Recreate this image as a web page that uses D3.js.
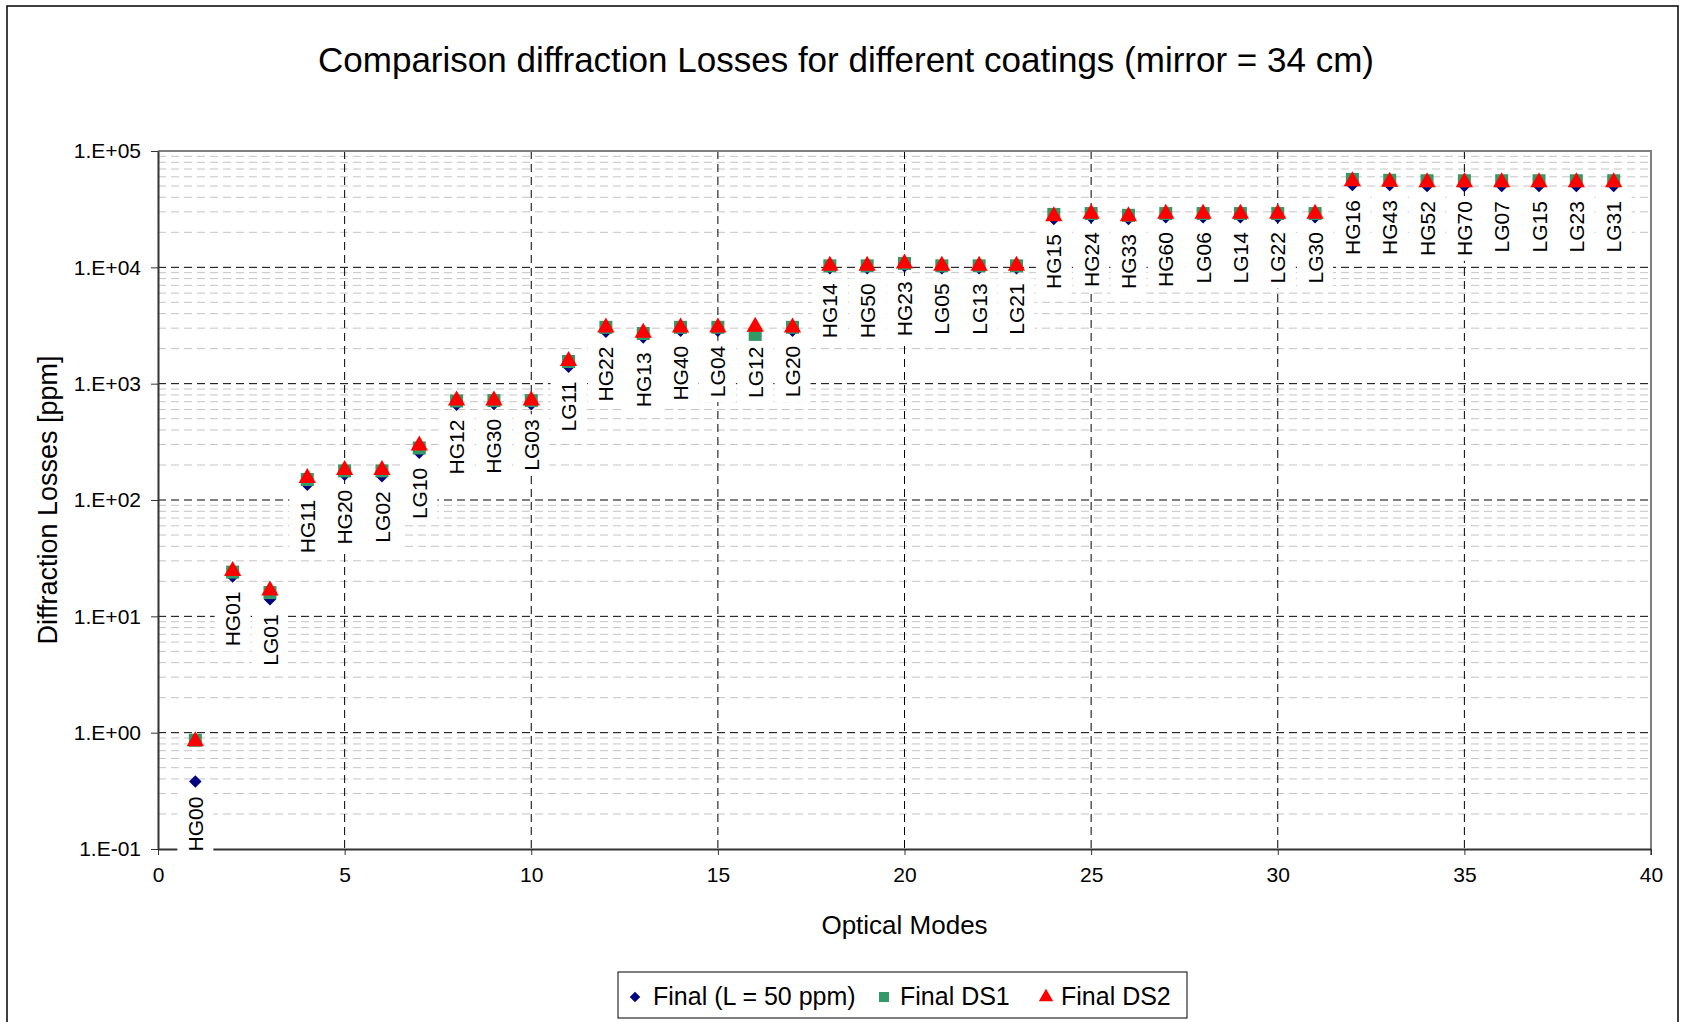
<!DOCTYPE html>
<html>
<head>
<meta charset="utf-8">
<script src="https://cdn.jsdelivr.net/npm/d3@7"></script>
<style>
  body { margin: 0; background: #fff; }
  svg { display: block; font-family: "Liberation Sans", Arial, sans-serif; }
</style>
</head>
<body>
<div id="chart"></div>
<script>
// optical modes, in x order 1..39
const modeLabels = ["HG00","HG01","LG01","HG11","HG20","LG02","LG10","HG12","HG30","LG03",
  "LG11","HG22","HG13","HG40","LG04","LG12","LG20","HG14","HG50","HG23",
  "LG05","LG13","LG21","HG15","HG24","HG33","HG60","LG06","LG14","LG22",
  "LG30","HG16","HG43","HG52","HG70","LG07","LG15","LG23","LG31"];

// diffraction losses [ppm]
const finalL = [0.38, 22, 14, 135, 165, 160, 255, 660, 670, 665,
  1400, 2800, 2500, 2850, 2850, 2800, 2850, 9800, 9800, 10200,
  9800, 9800, 9800, 26000, 27000, 26000, 27000, 27000, 27000, 27000,
  27000, 51000, 51000, 50000, 50000, 50000, 50000, 50000, 50000];
const finalDS1 = [0.86, 24, 16, 150, 178, 178, 280, 710, 715, 715,
  1550, 3050, 2700, 3050, 3050, 2650, 3050, 10300, 10300, 10800,
  10300, 10300, 10300, 28500, 29000, 28000, 29000, 29000, 29000, 29000,
  29000, 57000, 56000, 55500, 55500, 55500, 55500, 55500, 55500];
const finalDS2 = [0.86, 25, 17, 158, 185, 185, 300, 730, 730, 730,
  1600, 3100, 2800, 3100, 3100, 3150, 3100, 10500, 10500, 11000,
  10500, 10500, 10500, 28000, 29500, 28000, 29500, 29500, 29500, 29500,
  29500, 56000, 55500, 55000, 55000, 55000, 55000, 55000, 55000];

const seriesNames = ["Final (L = 50 ppm)", "Final DS1", "Final DS2"];
const xTicks = [0, 5, 10, 15, 20, 25, 30, 35, 40];
const yTicks = [1e-1, 1e0, 1e1, 1e2, 1e3, 1e4, 1e5];

const width = 1686, height = 1022;
const margin = {top: 151, right: 35, bottom: 173, left: 158};

const svg = d3.select("#chart").append("svg")
    .attr("width", width)
    .attr("height", height);

svg.append("rect")
    .attr("width", width).attr("height", height)
    .attr("fill", "white");

// chart border (bottom edge is outside the picture)
svg.append("rect")
    .attr("x", 7).attr("y", 6)
    .attr("width", 1671).attr("height", 1040)
    .attr("fill", "none")
    .attr("stroke", "#000")
    .attr("stroke-width", 1.5);

const x = d3.scaleLinear()
    .domain([0, 40])
    .range([margin.left, width - margin.right]);

const y = d3.scaleLog()
    .domain([1e-1, 1e5])
    .range([height - margin.bottom, margin.top]);

const fmt = d => {
  const e = Math.round(Math.log10(d));
  return "1.E" + (e < 0 ? "-" : "+") + String(Math.abs(e)).padStart(2, "0");
};

// minor gridlines
const minor = [];
for (let e = -1; e < 5; e++) for (let m = 2; m <= 9; m++) minor.push(m * Math.pow(10, e));

svg.append("g")
  .selectAll("line")
  .data(minor)
  .join("line")
    .attr("x1", x(0)).attr("x2", x(40))
    .attr("y1", d => y(d)).attr("y2", d => y(d))
    .attr("stroke", "#c4c4c4")
    .attr("stroke-width", 1)
    .attr("stroke-dasharray", "8,5");

// major gridlines
svg.append("g")
  .selectAll("line")
  .data(yTicks.slice(1, -1))
  .join("line")
    .attr("x1", x(0)).attr("x2", x(40))
    .attr("y1", d => y(d)).attr("y2", d => y(d))
    .attr("stroke", "#000")
    .attr("stroke-width", 1)
    .attr("stroke-dasharray", "8,5");

svg.append("g")
  .selectAll("line")
  .data(xTicks.slice(1, -1))
  .join("line")
    .attr("x1", d => x(d)).attr("x2", d => x(d))
    .attr("y1", y(1e5)).attr("y2", y(1e-1))
    .attr("stroke", "#000")
    .attr("stroke-width", 1)
    .attr("stroke-dasharray", "8,5");

// plot area top / right border
svg.append("path")
    .attr("d", `M${x(0)},${y(1e5)}H${x(40)}V${y(1e-1) + 6}`)
    .attr("fill", "none")
    .attr("stroke", "#808080")
    .attr("stroke-width", 2);

// axes
const xAxis = svg.append("g")
    .attr("transform", `translate(0,${y(1e-1)})`)
    .call(d3.axisBottom(x).tickValues(xTicks).tickSize(6).tickPadding(12).tickSizeOuter(0));
xAxis.select(".domain").attr("stroke", "#333").attr("stroke-width", 2);

const yAxis = svg.append("g")
    .attr("transform", `translate(${x(0)},0)`)
    .call(d3.axisLeft(y).tickValues(yTicks).tickFormat(fmt).tickSize(7).tickPadding(10).tickSizeOuter(0));
yAxis.select(".domain").attr("stroke", "#333").attr("stroke-width", 2);

svg.selectAll(".tick line").attr("stroke", "#333");
svg.selectAll(".tick text")
    .attr("fill", "#000")
    .style("font-size", "21px")
    .style("font-family", "Liberation Sans, Arial, sans-serif");

// markers
const modes = modeLabels.map((m, i) => ({
  name: m, n: i + 1, f: finalL[i], d1: finalDS1[i], d2: finalDS2[i]
}));

const symDiamond = d3.symbol().type(d3.symbolDiamond2).size(100)();
const symSquare = d3.symbol().type(d3.symbolSquare).size(169)();
const symTri = d3.symbol().type(d3.symbolTriangle).size(130)();

svg.append("g").selectAll("path")
  .data(modes).join("path")
    .attr("d", symDiamond)
    .attr("transform", d => `translate(${x(d.n)},${y(d.f)}) scale(1,1.0)`)
    .attr("fill", "#000080");

svg.append("g").selectAll("path")
  .data(modes).join("path")
    .attr("d", symSquare)
    .attr("transform", d => `translate(${x(d.n)},${y(d.d1)})`)
    .attr("fill", "#339966");

svg.append("g").selectAll("path")
  .data(modes).join("path")
    .attr("d", symTri)
    .attr("transform", d => `translate(${x(d.n)},${y(d.d2) + 1})`)
    .attr("fill", "#ff0000");

// data labels (below the Final point, rotated)
const lab = svg.append("g").selectAll("g")
  .data(modes).join("g")
    .attr("transform", d => `translate(${x(d.n)},${y(d.f) + 15}) rotate(-90)`);

lab.append("rect")
    .attr("fill", "white");

lab.append("text")
    .attr("text-anchor", "end")
    .attr("dy", "0.36em")
    .style("font-size", "21px")
    .text(d => d.name);

lab.each(function() {
  const g = d3.select(this);
  const w = g.select("text").node().getComputedTextLength();
  g.select("rect")
    .attr("x", -w - 5).attr("y", -18)
    .attr("width", w + 10).attr("height", 36);
});

// titles
svg.append("text")
    .attr("x", 846).attr("y", 72)
    .attr("text-anchor", "middle")
    .style("font-size", "35px")
    .text("Comparison diffraction Losses for different coatings (mirror = 34 cm)");

svg.append("text")
    .attr("x", x(20)).attr("y", 934)
    .attr("text-anchor", "middle")
    .style("font-size", "26px")
    .text("Optical Modes");

svg.append("text")
    .attr("transform", `translate(57,${(y(1e5) + y(1e-1)) / 2}) rotate(-90)`)
    .attr("text-anchor", "middle")
    .style("font-size", "27px")
    .text("Diffraction Losses [ppm]");

// legend
const legend = svg.append("g");
legend.append("rect")
    .attr("x", 618).attr("y", 972)
    .attr("width", 569).attr("height", 46)
    .attr("fill", "white")
    .attr("stroke", "#000")
    .attr("stroke-width", 1);

const legendItems = [
  {name: seriesNames[0], sym: d3.symbol().type(d3.symbolDiamond2).size(70)(), color: "#000080", mx: 635, tx: 653},
  {name: seriesNames[1], sym: d3.symbol().type(d3.symbolSquare).size(100)(), color: "#339966", mx: 884, tx: 900},
  {name: seriesNames[2], sym: d3.symbol().type(d3.symbolTriangle).size(90)(), color: "#ff0000", mx: 1046, tx: 1061}
];

legendItems.forEach(it => {
  legend.append("path")
      .attr("d", it.sym)
      .attr("transform", `translate(${it.mx},997)`)
      .attr("fill", it.color);
  legend.append("text")
      .attr("x", it.tx).attr("y", 1005)
      .style("font-size", "25px")
      .text(it.name);
});
</script>
</body>
</html>
